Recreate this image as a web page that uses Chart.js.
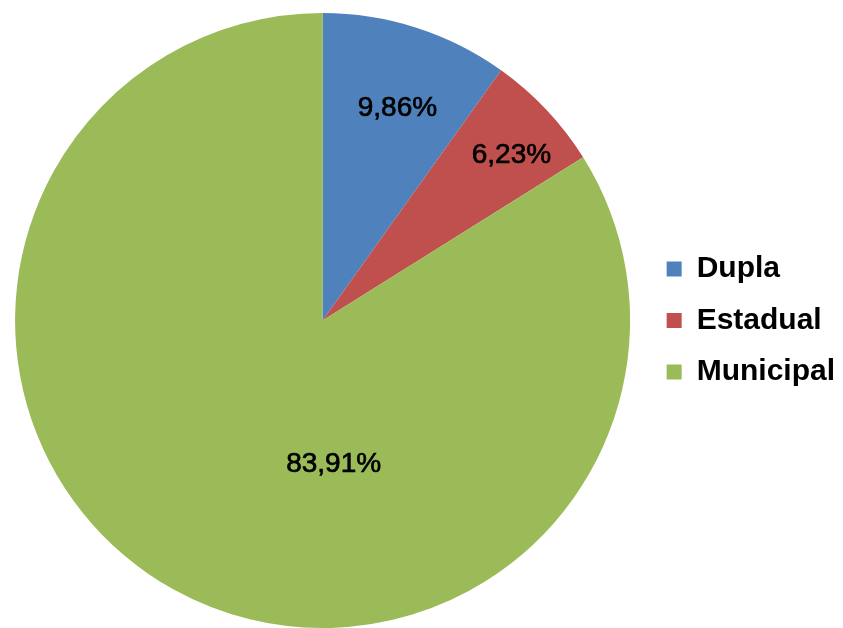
<!DOCTYPE html>
<html>
<head>
<meta charset="utf-8">
<script src="https://cdn.jsdelivr.net/npm/chart.js@4"></script>
<style>
  body{margin:0;background:#fff;}
  #wrap{width:843px;height:628px;}
</style>
</head>
<body>
<div id="wrap"><canvas id="pieChart" width="843" height="628"></canvas></div>
<script>
const ctx=document.getElementById('pieChart')
const categorias=['Dupla','Estadual','Municipal'];
const percentuais=[9.86,6.23,83.91];
const cores=['#4F81BD','#C0504D','#9BBB59'];

// where each value label sits: fraction of radius, angle shift (deg) from slice middle
const posRotulo=[{r:0.735,shift:1.6},{r:0.82,shift:1.8},{r:0.465,shift:-33.4}];

const rotulos={
  id:'rotulos',
  afterDatasetsDraw(chart){
    const c=chart.ctx;
    const meta=chart.getDatasetMeta(0);
    c.save();
    c.font='normal 28px "Liberation Sans", Arial, sans-serif';
    c.fillStyle='#000';
    c.strokeStyle='#000';
    c.lineWidth=0.7;
    c.textAlign='center';
    c.textBaseline='middle';
    meta.data.forEach((arc,i)=>{
      const p=arc.getProps(['x','y','startAngle','endAngle','outerRadius'],true);
      const a=(p.startAngle+p.endAngle)/2+posRotulo[i].shift*Math.PI/180;
      const r=p.outerRadius*posRotulo[i].r;
      const txt=percentuais[i].toFixed(2).replace('.',',')+'%';
      const x=p.x+Math.cos(a)*r, y=p.y+Math.sin(a)*r+1.5;
      c.fillText(txt,x,y);
      c.strokeText(txt,x,y);
    });
    c.restore();
  }
};

new Chart(ctx,{
  type:'pie',
  data:{
    labels:categorias,
    datasets:[{
      data:percentuais,
      backgroundColor:cores,
      borderWidth:0
    }]
  },
  options:{
    responsive:false,
    animation:false,
    devicePixelRatio:1,
    layout:{padding:{left:0,right:-2,top:13,bottom:0}},
    plugins:{
      tooltip:{enabled:false},
      legend:{
        display:true,
        position:'right',
        labels:{
          boxWidth:15,
          boxHeight:15,
          padding:21.5,
          color:'#000',
          font:{family:'"Liberation Sans", Arial, sans-serif',size:30,weight:'bold'}
        }
      }
    }
  },
  plugins:[rotulos]
})
</script>
</body>
</html>
